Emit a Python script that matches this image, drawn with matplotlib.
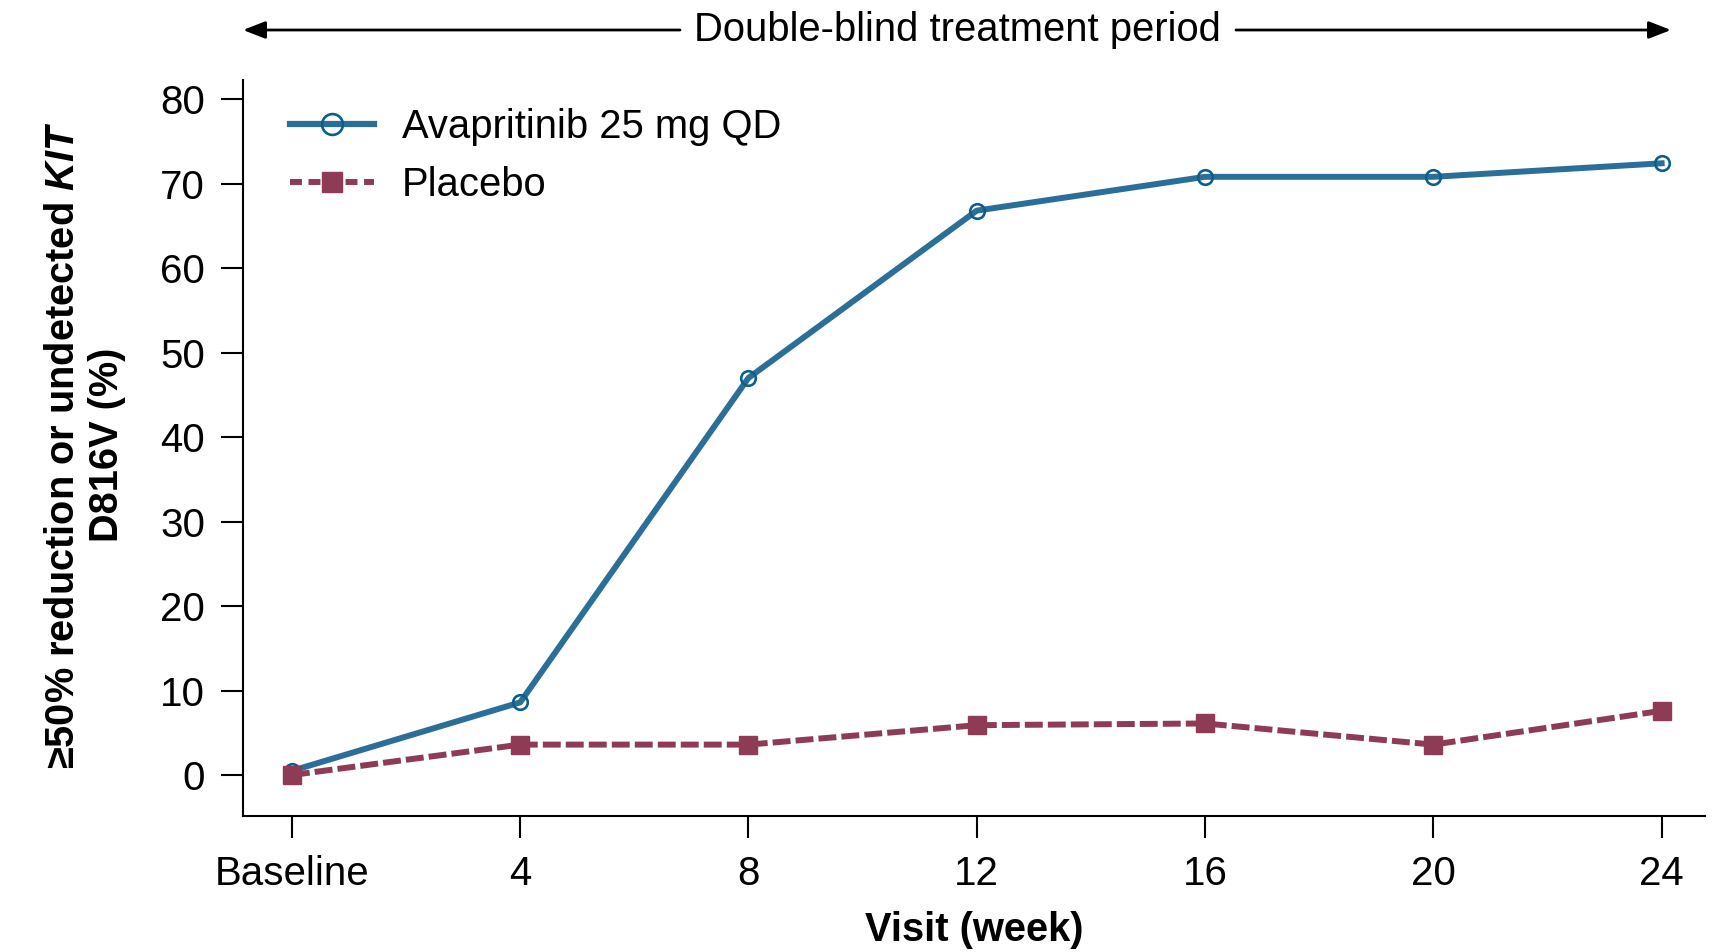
import matplotlib
matplotlib.use("Agg")
import matplotlib.pyplot as plt
from matplotlib.lines import Line2D

plt.rcParams['font.family'] = ['Liberation Sans', 'DejaVu Sans']
plt.rcParams['mathtext.fontset'] = 'custom'
plt.rcParams['mathtext.it'] = 'Liberation Sans:italic:bold'
plt.rcParams['mathtext.rm'] = 'Liberation Sans:bold'
plt.rcParams['mathtext.bf'] = 'Liberation Sans:bold'

# ---- data ----
visits = ["Baseline", "4", "8", "12", "16", "20", "24"]
avapritinib = [0.5, 8.6, 47.0, 66.8, 70.8, 70.8, 72.4]
placebo = [0.0, 3.6, 3.6, 5.9, 6.1, 3.6, 7.6]
yticks = [0, 10, 20, 30, 40, 50, 60, 70, 80]
series_names = ["Avapritinib 25 mg QD", "Placebo"]

W, H = 1729, 952
fig = plt.figure(figsize=(W / 100, H / 100), dpi=100)
ax = fig.add_axes([242.6 / W, 1 - 816 / H, (1705 - 242.6) / W, (816 - 80.5) / H])

blue = "#2b6f98"
blue_edge = "#0d5e8e"
maroon = "#8e3c55"

x = list(range(len(visits)))
ax.plot(x, avapritinib, color=blue, lw=4.3, marker='o', markersize=10.5,
        markerfacecolor='none', markeredgecolor=blue_edge, markeredgewidth=1.9,
        zorder=2, label=series_names[0])
ax.plot(x, placebo, color=maroon, lw=4.3, dashes=(3.0, 0.85), marker='s',
        markersize=13.5, markerfacecolor=maroon, markeredgecolor=maroon, zorder=3,
        label=series_names[1])

ax.set_xlim(-0.216, 6.19)
ax.set_ylim(-4.85, 82.2)
ax.set_xticks(x)
ax.set_xticklabels(visits)
ax.set_yticks(yticks)
ax.spines['top'].set_visible(False)
ax.spines['right'].set_visible(False)
for s in ['left', 'bottom']:
    ax.spines[s].set_linewidth(1.5)
ax.tick_params(axis='both', direction='out', length=16, width=1.5, labelsize=29)
ax.tick_params(axis='y', pad=11)
ax.tick_params(axis='x', pad=12)

ax.set_xlabel("Visit (week)", fontsize=28.7, fontweight='bold', labelpad=13)

fig.text(85 / W, 1 - 445 / H,
         "≥50% reduction or undetected $\\mathit{KIT}$\nD816V (%)",
         rotation=90, ha='center', va='center', multialignment='center',
         fontsize=28.6, fontweight='bold', linespacing=1.22)

handles = [
    Line2D([], [], color=blue, lw=4.5, marker='o', markersize=15,
           markerfacecolor='none', markeredgecolor=blue_edge, markeredgewidth=1.9),
    Line2D([], [], color=maroon, lw=4.3, dashes=(2.0, 1.1), marker='s',
           markersize=14, markerfacecolor=maroon, markeredgecolor=maroon),
]
ax.legend(handles, series_names, loc='upper left', frameon=False, fontsize=28.8,
          bbox_to_anchor=(290 / W, 1 - 108 / H), bbox_transform=fig.transFigure,
          borderaxespad=0, borderpad=0, handlelength=2.1, handletextpad=0.7,
          labelspacing=0.5)

# top arrow annotation
ty = 1 - 30 / H
fig.text(957 / W, ty, "Double-blind treatment period", ha='center', va='center',
         fontsize=28.8)
ap = dict(arrowstyle='-|>,head_length=0.9,head_width=0.35', color='black', lw=2,
          shrinkA=0, shrinkB=0)
fig.add_artist(matplotlib.patches.FancyArrowPatch(
    (680 / W, ty), (243 / W, ty), transform=fig.transFigure, mutation_scale=15, **ap))
fig.add_artist(matplotlib.patches.FancyArrowPatch(
    (1236 / W, ty), (1671 / W, ty), transform=fig.transFigure, mutation_scale=15, **ap))

fig.savefig("out.png", dpi=100)
